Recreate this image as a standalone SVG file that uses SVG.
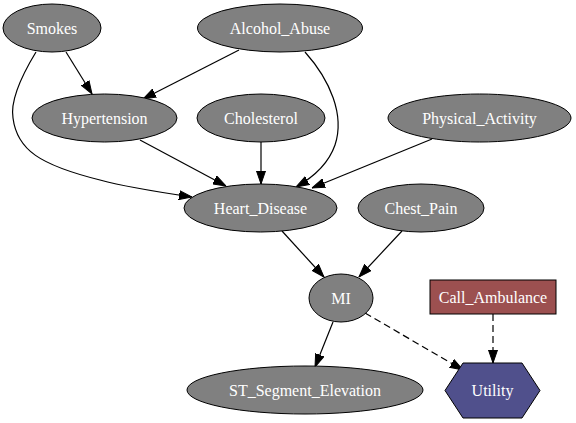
<svg xmlns="http://www.w3.org/2000/svg" width="576" height="423" viewBox="0 0 576 423">
<defs>
<style>
.n ellipse{fill:#808080;stroke:#000;stroke-width:1}
.d rect{fill:#9c5050;stroke:#000;stroke-width:1}
.u polygon{fill:#50508c;stroke:#000;stroke-width:1}
text{font-family:"Times New Roman","Liberation Serif","DejaVu Serif",serif;font-size:16px;fill:#fff;text-anchor:middle}
#edges path{fill:none;stroke:#000;stroke-width:1.2;marker-end:url(#arr)}
#edges path.dash{stroke-dasharray:7,4}
</style>
<marker id="arr" viewBox="0 0 13 10" refX="13" refY="5" markerWidth="13" markerHeight="10" markerUnits="userSpaceOnUse" orient="auto">
<path d="M0,0.5 L13,5 L0,9.5 z" fill="#000" stroke="#000" stroke-width="1"/>
</marker>
</defs>
<rect width="576" height="423" fill="#fff"/>
<g id="edges">
<path d="M66,52 L92,94"/>
<path d="M239,50 L143,99"/>
<path d="M36,52 C22,75 10,100 13,118 C17,150 40,165 100,180 C130,188 165,193 192,197"/>
<path d="M305,52 C330,80 345,115 335,145 C328,165 312,178 296,187"/>
<path d="M140,140 L226,186"/>
<path d="M261,142 L261,184"/>
<path d="M432,139 L312,188"/>
<path d="M282,231 L324,277"/>
<path d="M402,231 L359,277"/>
<path d="M333,322 L315,367"/>
<path class="dash" d="M365,313 L463,370"/>
<path class="dash" d="M493,314 L493,363"/>
</g>
<g id="Smokes" class="n"><ellipse cx="52" cy="28" rx="49" ry="24"/><text x="52" y="33.5">Smokes</text></g>
<g id="Alcohol_Abuse" class="n"><ellipse cx="280" cy="28" rx="82.5" ry="24"/><text x="280" y="33.5">Alcohol_Abuse</text></g>
<g id="Hypertension" class="n"><ellipse cx="104.5" cy="118" rx="72.5" ry="24"/><text x="104.5" y="123.5">Hypertension</text></g>
<g id="Cholesterol" class="n"><ellipse cx="261" cy="118" rx="64" ry="24"/><text x="261" y="123.5">Cholesterol</text></g>
<g id="Physical_Activity" class="n"><ellipse cx="479.5" cy="118" rx="91.5" ry="24"/><text x="479.5" y="123.5">Physical_Activity</text></g>
<g id="Heart_Disease" class="n"><ellipse cx="260.5" cy="208" rx="76.5" ry="24"/><text x="260.5" y="213.5">Heart_Disease</text></g>
<g id="Chest_Pain" class="n"><ellipse cx="421" cy="208" rx="63" ry="24"/><text x="421" y="213.5">Chest_Pain</text></g>
<g id="MI" class="n"><ellipse cx="341" cy="298" rx="32" ry="24"/><text x="341" y="303.5">MI</text></g>
<g id="Call_Ambulance" class="d"><rect x="430" y="280" width="126" height="34"/><text x="493" y="302.5">Call_Ambulance</text></g>
<g id="ST_Segment_Elevation" class="n"><ellipse cx="305" cy="390" rx="118" ry="24"/><text x="305" y="395.5">ST_Segment_Elevation</text></g>
<g id="Utility" class="u"><polygon points="445,390.5 463,363 522,363 540,390.5 522,418 463,418"/><text x="492.5" y="396">Utility</text></g>
</svg>
